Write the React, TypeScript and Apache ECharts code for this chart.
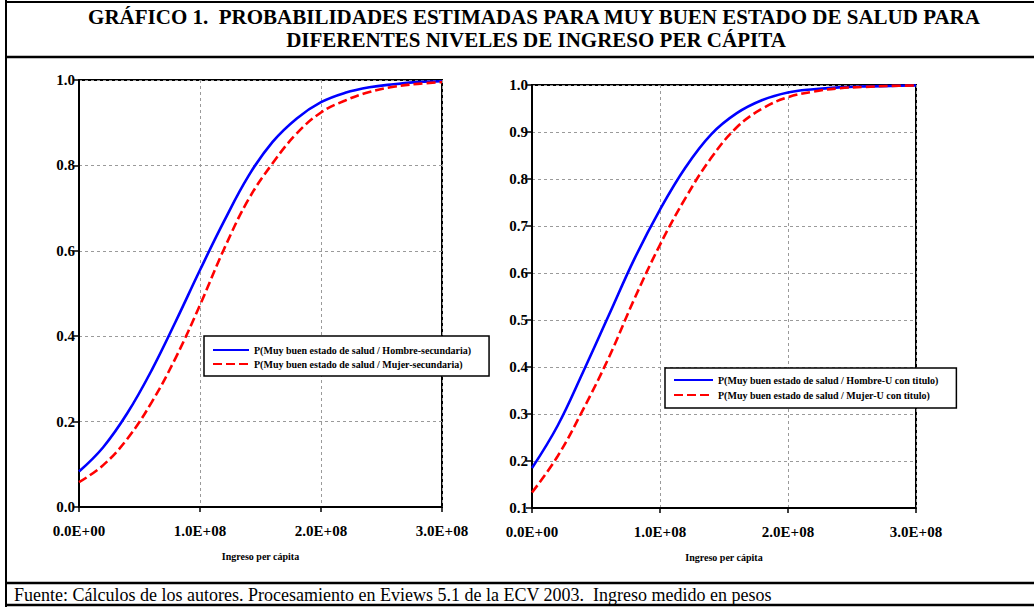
import React, { useEffect, useRef } from "react";
import * as echarts from "echarts";

// Income per capita (pesos)
const incomeX = [0, 2e7, 4e7, 6e7, 8e7, 1e8, 1.2e8, 1.4e8, 1.6e8, 1.8e8, 2e8, 2.2e8, 2.4e8, 2.6e8, 2.8e8, 3e8];

// Left panel: secundaria
const leftHombre = [0.083, 0.14, 0.22, 0.32, 0.435, 0.555, 0.67, 0.775, 0.855, 0.91, 0.948, 0.97, 0.983, 0.99, 0.995, 0.997];
const leftMujer = [0.058, 0.098, 0.16, 0.245, 0.35, 0.473, 0.605, 0.72, 0.805, 0.875, 0.924, 0.952, 0.972, 0.984, 0.991, 0.995];

// Right panel: U con título
const rightHombre = [0.185, 0.275, 0.39, 0.51, 0.63, 0.735, 0.825, 0.895, 0.94, 0.968, 0.984, 0.991, 0.995, 0.997, 0.998, 0.999];
const rightMujer = [0.133, 0.21, 0.31, 0.42, 0.545, 0.66, 0.76, 0.845, 0.91, 0.95, 0.974, 0.986, 0.993, 0.996, 0.998, 0.999];

const xTickLabels = ["0.0E+00", "1.0E+08", "2.0E+08", "3.0E+08"];
const leftNames = [
  "P(Muy buen estado de salud / Hombre-secundaria)",
  "P(Muy buen estado de salud / Mujer-secundaria)",
];
const rightNames = [
  "P(Muy buen estado de salud / Hombre-U con titulo)",
  "P(Muy buen estado de salud / Mujer-U con titulo)",
];
const titleLines = [
  "GRÁFICO 1.  PROBABILIDADES ESTIMADAS PARA MUY BUEN ESTADO DE SALUD PARA",
  "DIFERENTES NIVELES DE INGRESO PER CÁPITA",
];
const axisTitle = "Ingreso per cápita";
const footerText =
  "Fuente: Cálculos de los autores. Procesamiento en Eviews 5.1 de la ECV 2003.  Ingreso medido en pesos";

const SERIF = "'Liberation Serif', 'Times New Roman', serif";
const BLUE = "#0000ff";
const RED = "#ff0000";

function pairs(ys: number[]) {
  return incomeX.map((x, i) => [x, ys[i]]);
}

function xAxisFor(gridIndex: number) {
  return {
    type: "value",
    gridIndex,
    min: 0,
    max: 3e8,
    interval: 1e8,
    name: axisTitle,
    nameLocation: "middle",
    nameGap: 44,
    nameTextStyle: { fontFamily: SERIF, fontWeight: "bold", fontSize: 10, color: "#000" },
    axisLine: { show: true, lineStyle: { color: "#000", width: 2 } },
    axisTick: { show: true, length: 5, lineStyle: { color: "#000", width: 1.5 } },
    axisLabel: {
      margin: 16,
      fontFamily: SERIF,
      fontWeight: "bold",
      fontSize: 15,
      color: "#000",
      formatter: (v: number) => xTickLabels[Math.round(v / 1e8)] ?? "",
    },
    splitLine: { show: true, lineStyle: { color: "#9a9a9a", width: 1, type: [3, 3] } },
  };
}

function yAxisFor(gridIndex: number, min: number, interval: number) {
  return {
    type: "value",
    gridIndex,
    min,
    max: 1,
    interval,
    axisLine: { show: true, lineStyle: { color: "#000", width: 2 } },
    axisTick: { show: true, length: 6, lineStyle: { color: "#000", width: 1.5 } },
    axisLabel: {
      margin: 4,
      fontFamily: SERIF,
      fontWeight: "bold",
      fontSize: 15,
      color: "#000",
      formatter: (v: number) => v.toFixed(1),
    },
    splitLine: { show: true, lineStyle: { color: "#9a9a9a", width: 1, type: [3, 3] } },
  };
}

function lineSeries(name: string, data: number[][], idx: number, color: string, dashed: boolean) {
  return {
    type: "line",
    name,
    xAxisIndex: idx,
    yAxisIndex: idx,
    data,
    smooth: 0.4,
    showSymbol: false,
    symbol: "none",
    itemStyle: { color },
    lineStyle: { color, width: 2.6, type: dashed ? [9, 4] : "solid" },
    z: 5,
  };
}

function legendFor(names: string[], left: number, top: number, itemWidth: number, padding: number[], gap: number) {
  return {
    data: names,
    orient: "vertical",
    left,
    top,
    itemWidth,
    itemHeight: 12,
    itemGap: gap,
    padding,
    borderColor: "#000",
    borderWidth: 1.5,
    backgroundColor: "#fff",
    selectedMode: false,
    itemStyle: { color: "rgba(0,0,0,0)", borderWidth: 0, opacity: 0 },
    textStyle: { fontFamily: SERIF, fontWeight: "bold", fontSize: 10, color: "#000" },
    z: 10,
  };
}

function frameLine(x1: number, y1: number, x2: number, y2: number, w = 2) {
  return {
    type: "line",
    shape: { x1, y1, x2, y2 },
    style: { stroke: "#000", lineWidth: w },
    silent: true,
    z: 20,
  };
}

export default function App() {
  const ref = useRef<HTMLDivElement>(null);

  useEffect(() => {
    if (!ref.current) return;
    const chart = echarts.init(ref.current, undefined, { renderer: "svg" });
    chart.setOption({
      animation: false,
      backgroundColor: "#fff",
      grid: [
        { left: 79, top: 80, width: 363, height: 427, show: true, borderColor: "#000", borderWidth: 2, backgroundColor: "transparent" },
        { left: 532, top: 85, width: 384, height: 423, show: true, borderColor: "#000", borderWidth: 2, backgroundColor: "transparent" },
      ],
      xAxis: [xAxisFor(0), xAxisFor(1)],
      yAxis: [yAxisFor(0, 0, 0.2), yAxisFor(1, 0.1, 0.1)],
      legend: [
        legendFor(leftNames, 204, 336, 36, [9, 18, 7, 8], 4),
        legendFor(rightNames, 665, 368, 39, [7, 18, 8, 8], 5),
      ],
      series: [
        lineSeries(leftNames[0], pairs(leftHombre), 0, BLUE, false),
        lineSeries(leftNames[1], pairs(leftMujer), 0, RED, true),
        lineSeries(rightNames[0], pairs(rightHombre), 1, BLUE, false),
        lineSeries(rightNames[1], pairs(rightMujer), 1, RED, true),
      ],
      graphic: [
        frameLine(6, 0, 6, 607),
        frameLine(6, 2, 1034, 2),
        frameLine(6, 57, 1034, 57, 2.5),
        frameLine(6, 583, 1034, 583, 2.5),
        frameLine(6, 605, 1034, 605, 2.5),
        {
          type: "text",
          x: 534,
          y: 17,
          style: {
            text: titleLines[0],
            fontFamily: SERIF,
            fontWeight: "bold",
            fontSize: 21,
            fill: "#000",
            textAlign: "center",
            textVerticalAlign: "middle",
          },
          z: 20,
        },
        {
          type: "text",
          x: 536,
          y: 40,
          style: {
            text: titleLines[1],
            fontFamily: SERIF,
            fontWeight: "bold",
            fontSize: 21,
            fill: "#000",
            textAlign: "center",
            textVerticalAlign: "middle",
          },
          z: 20,
        },
        {
          type: "text",
          x: 14,
          y: 595,
          style: {
            text: footerText,
            fontFamily: SERIF,
            fontSize: 18,
            fill: "#000",
            textAlign: "left",
            textVerticalAlign: "middle",
          },
          z: 20,
        },
      ],
    });
    return () => chart.dispose();
  }, []);

  return (
    <div
      ref={ref}
      style={{ position: "fixed", left: 0, top: 0, width: 1034, height: 607, background: "#fff" }}
    />
  );
}
